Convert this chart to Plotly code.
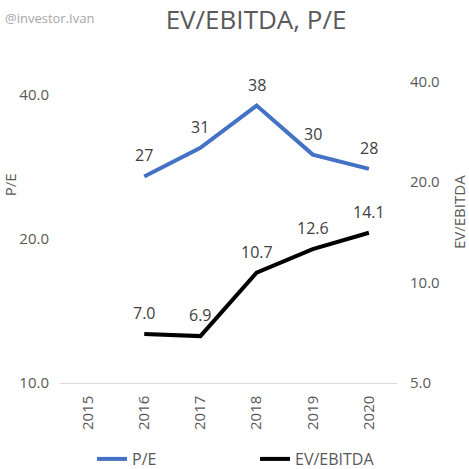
import math
import plotly.graph_objects as go

years = ["2015", "2016", "2017", "2018", "2019", "2020"]
pe_values = [None, 27, 31, 38, 30, 28]
ev_ebitda_values = [None, 7.0, 6.9, 10.7, 12.6, 14.1]
pe_labels = ["", "27", "31", "38", "30", "28"]
ev_labels = ["", "7.0", "6.9", "10.7", "12.6", "14.1"]
left_ticks = [10, 20, 40]
left_ticktext = ["10.0", "20.0", "40.0"]
right_ticks = [5, 10, 20, 40]
right_ticktext = ["5.0", "10.0", "20.0", "40.0"]

FONT = "Open Sans"
BLUE = "#4472C4"
GRAY = "#595959"
W = H = 469
L, R, T, B = 60, 72, 82, 84
PW, PH = W - L - R, H - T - B


def px_to_paper(px, py):
    return (px - L) / PW, (H - py - B) / PH


fig = go.Figure()
fig.add_trace(go.Scatter(x=years, y=pe_values, name="P/E", mode="lines",
                         line=dict(color=BLUE, width=4), yaxis="y"))
fig.add_trace(go.Scatter(x=years, y=ev_ebitda_values, name="EV/EBITDA", mode="lines",
                         line=dict(color="#000000", width=4), yaxis="y2"))

anns = []
for i, (v, t) in enumerate(zip(pe_values, pe_labels)):
    if v is None:
        continue
    anns.append(dict(x=i, y=math.log10(v), xref="x", yref="y", text=t,
                     showarrow=False, yshift=21,
                     font=dict(family=FONT, size=16, color="#404040")))
for i, (v, t) in enumerate(zip(ev_ebitda_values, ev_labels)):
    if v is None:
        continue
    anns.append(dict(x=i, y=math.log10(v), xref="x", yref="y2", text=t,
                     showarrow=False, yshift=21,
                     font=dict(family=FONT, size=16, color="#404040")))

wx, wy = px_to_paper(3, 18)
anns.append(dict(x=wx, y=wy, xref="paper", yref="paper", text="@investor.Ivan",
                 showarrow=False, xanchor="left", yanchor="middle",
                 font=dict(family=FONT, size=13, color="#a6a6a6")))
px_, py_ = px_to_paper(10, 186)
anns.append(dict(x=px_, y=py_, xref="paper", yref="paper", text="P/E", textangle=-90,
                 showarrow=False, xanchor="center", yanchor="middle",
                 font=dict(family=FONT, size=15, color=GRAY)))
ex, ey = px_to_paper(459, 213)
anns.append(dict(x=ex, y=ey, xref="paper", yref="paper", text="EV/EBITDA", textangle=-90,
                 showarrow=False, xanchor="center", yanchor="middle",
                 font=dict(family=FONT, size=15, color=GRAY)))

fig.update_layout(
    width=W, height=H,
    margin=dict(l=L, r=R, t=T, b=B),
    paper_bgcolor="white", plot_bgcolor="white",
    font=dict(family=FONT, color=GRAY),
    title=dict(text="EV/EBITDA, P/E", x=256 / W, xanchor="center", xref="container",
               y=1 - 20 / H, yanchor="middle", yref="container",
               font=dict(family=FONT, size=26, color=GRAY)),
    showlegend=True,
    legend=dict(orientation="h", xref="container", yref="container",
                x=92 / W, xanchor="left", y=10 / H, yanchor="middle",
                entrywidth=118, entrywidthmode="pixels",
                font=dict(family=FONT, size=16, color=GRAY), bgcolor="rgba(0,0,0,0)"),
    xaxis=dict(type="category", categoryorder="array", categoryarray=years,
               tickangle=-90, showgrid=False, showline=True, linecolor="#d9d9d9",
               linewidth=1, ticks="", tickfont=dict(family=FONT, size=15, color=GRAY),
               ticklabelstandoff=6, zeroline=False, range=[-0.5, 5.5]),
    yaxis=dict(type="log", range=[1, math.log10(42.56)], tickvals=left_ticks,
               ticktext=left_ticktext, showgrid=False, showline=False, zeroline=False,
               ticks="", tickfont=dict(family=FONT, size=15, color=GRAY), ticklabelstandoff=10),
    yaxis2=dict(type="log", range=[math.log10(5), math.log10(40)], tickvals=right_ticks,
                ticktext=right_ticktext, overlaying="y", side="right", showgrid=False,
                showline=False, zeroline=False, ticks="",
                tickfont=dict(family=FONT, size=15, color=GRAY), ticklabelstandoff=12),
    annotations=anns,
)

fig.write_html("out.html", config={"displayModeBar": False},
               post_script="document.body.style.margin='0px';")
